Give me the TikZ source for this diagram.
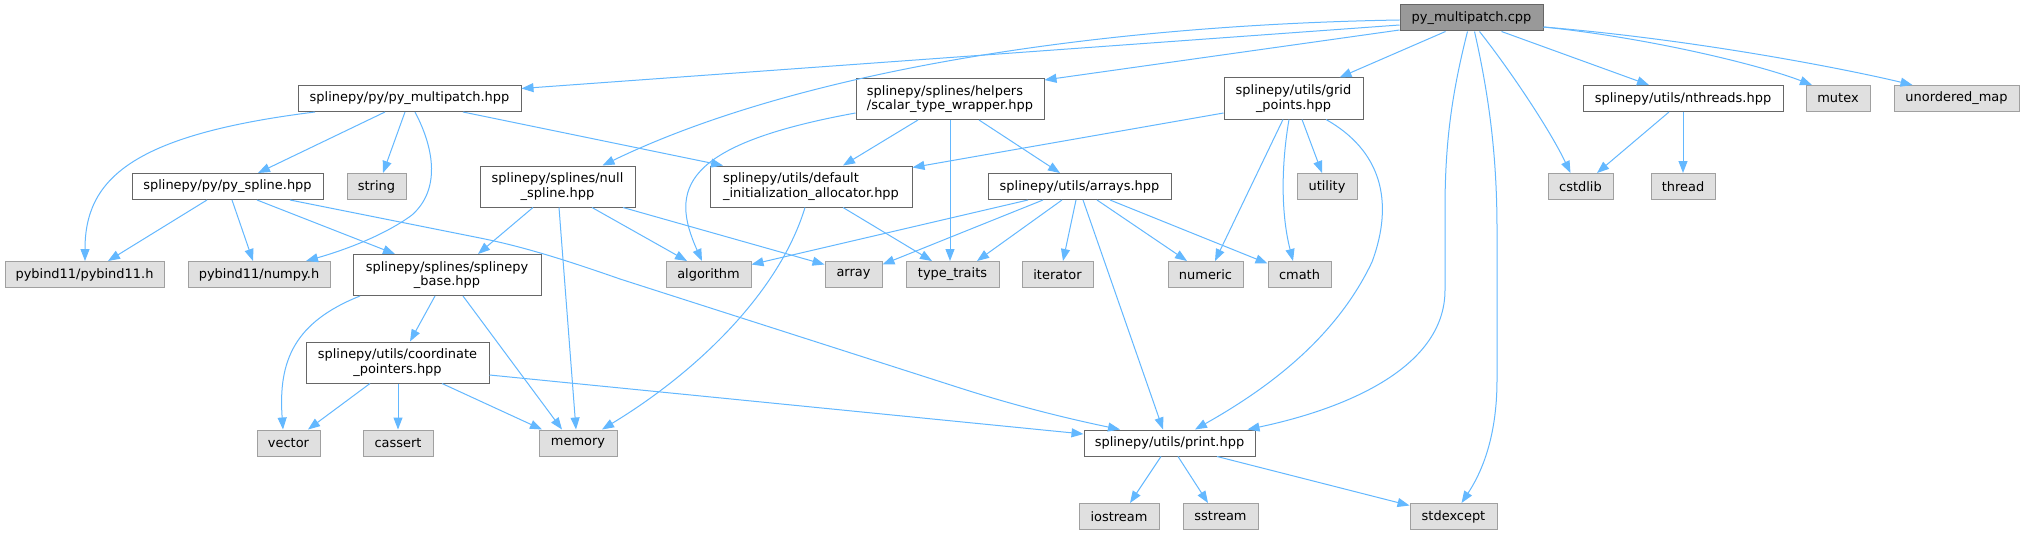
\documentclass[tikz,border=0pt]{standalone}
\usepackage{fontspec}
\setmainfont{DejaVu Sans}
\usetikzlibrary{arrows.meta,calc}
\definecolor{edgecol}{HTML}{63B8FF}
\definecolor{wborder}{HTML}{666666}
\definecolor{gborder}{HTML}{A0A0A0}
\definecolor{gfill}{HTML}{E0E0E0}
\definecolor{cppfill}{HTML}{999999}
\begin{document}
\begin{tikzpicture}[x=1pt,y=-1pt,
  every node/.style={font=\fontsize{12.95}{14.3}\selectfont, inner sep=0pt, text=black},
  wbox/.style={draw=wborder, fill=white, line width=1pt, minimum height=26pt},
  gbox/.style={draw=gborder, fill=gfill, line width=1pt, minimum height=26pt},
  rootbox/.style={draw=wborder, fill=cppfill, line width=1pt, minimum height=26pt},
  twol/.style={minimum height=41pt, align=center},
  twoleft/.style={minimum height=41pt, align=left},
  incl/.style={draw=edgecol, line width=1pt, -{Triangle[length=12pt,width=9pt]}}]
\useasboundingbox (0,0) rectangle (2024,535);
\fill[white] (0,0) rectangle (2024,535);

% row 0
\node[rootbox, minimum width=143pt] (cpp) at (1471.5,18) {py\_multipatch.cpp};
% row 1
\node[wbox, minimum width=223pt] (pmh) at (409.5,98.5) {splinepy/py/py\_multipatch.hpp};
\node[wbox, twoleft, minimum width=188pt] (scal) at (950,99) {splinepy/splines/helpers\\/scalar\_type\_wrapper.hpp};
\node[wbox, twol, minimum width=139pt] (grid) at (1293.5,98.5) {splinepy/utils/grid\\\_points.hpp};
\node[wbox, minimum width=200pt] (nthr) at (1683,98.5) {splinepy/utils/nthreads.hpp};
\node[gbox, minimum width=64pt] (mutex) at (1838,98.5) {mutex};
\node[gbox, minimum width=125pt] (umap) at (1956.5,98.5) {unordered\_map};
% row 2
\node[wbox, minimum width=191pt] (pys) at (227.5,186.5) {splinepy/py/py\_spline.hpp};
\node[gbox, minimum width=59pt] (string) at (376.5,186.5) {string};
\node[wbox, twol, minimum width=155pt] (null) at (557.5,186.5) {splinepy/splines/null\\\_spline.hpp};
\node[wbox, twoleft, minimum width=202pt] (dalloc) at (811,186.5) {splinepy/utils/default\\\_initialization\_allocator.hpp};
\node[wbox, minimum width=183pt] (arrays) at (1079.5,186.5) {splinepy/utils/arrays.hpp};
\node[gbox, minimum width=60pt] (utility) at (1327,186.5) {utility};
\node[gbox, minimum width=65pt] (cstdlib) at (1580.5,186.5) {cstdlib};
\node[gbox, minimum width=64pt] (thread) at (1683,186.5) {thread};
% row 3
\node[gbox, minimum width=159pt] (pyb) at (84.5,274.5) {pybind11/pybind11.h};
\node[gbox, minimum width=142pt] (numpy) at (259,274.5) {pybind11/numpy.h};
\node[wbox, twol, minimum width=188pt] (base) at (447,275) {splinepy/splines/splinepy\\\_base.hpp};
\node[gbox, minimum width=85pt] (algo) at (708.5,274.5) {algorithm};
\node[gbox, minimum width=57pt] (array) at (853.5,274.5) {array};
\node[gbox, minimum width=93pt] (ttraits) at (952.5,274.5) {type\_traits};
\node[gbox, minimum width=71pt] (iter) at (1057.5,274.5) {iterator};
\node[gbox, minimum width=75pt] (numeric) at (1205.5,274.5) {numeric};
\node[gbox, minimum width=63pt] (cmath) at (1299.5,274.5) {cmath};
% row 4
\node[wbox, twol, minimum width=183pt] (coord) at (397.5,362.5) {splinepy/utils/coordinate\\\_pointers.hpp};
% row 5
\node[gbox, minimum width=63pt] (vector) at (288.5,443) {vector};
\node[gbox, minimum width=70pt] (cassert) at (398,443) {cassert};
\node[gbox, minimum width=78pt] (memory) at (578,443) {memory};
\node[wbox, minimum width=171pt] (print) at (1169.5,443) {splinepy/utils/print.hpp};
% row 6
\node[gbox, minimum width=80pt] (iostream) at (1119,516.5) {iostream};
\node[gbox, minimum width=75pt] (sstream) at (1220.5,516.5) {sstream};
\node[gbox, minimum width=87pt] (stdexcept) at (1453.5,516.5) {stdexcept};

% edges from cpp
\draw[incl] ($(cpp.west)+(0,7)$) -- ($(pmh.east)+(0,-10)$);
\draw[incl] ($(cpp.west)+(0,2)$) .. controls (1100,25) and (800,70) .. ($(null.north)+(45,0)$);
\draw[incl] ($(cpp.west)+(0,12)$) -- ($(scal.east)+(0,-19)$);
\draw[incl] ($(cpp.south)+(-26,0)$) -- ($(grid.north)+(46,0)$);
\draw[incl] ($(cpp.south)+(-4,0)$) .. controls (1450,100) and (1445,150) .. (1445,210) -- (1445,290) .. controls (1445,370) and (1340,410) .. ($(print.north)+(78,0)$);
\draw[incl] ($(cpp.south)+(3,0)$) .. controls (1490,100) and (1497,160) .. (1497,230) -- (1497,380) .. controls (1497,440) and (1480,475) .. ($(stdexcept.north)+(8,0)$);
\draw[incl] ($(cpp.south)+(8,0)$) .. controls (1510,70) and (1550,130) .. ($(cstdlib.north)+(-10,0)$);
\draw[incl] ($(cpp.south)+(30,0)$) -- ($(nthr.north)+(-34,0)$);
\draw[incl] ($(cpp.east)+(0,9)$) .. controls (1650,38) and (1760,65) .. ($(mutex.north)+(-26,0)$);
\draw[incl] ($(cpp.east)+(0,9)$) .. controls (1700,40) and (1850,70) .. ($(umap.north)+(-44,0)$);

% edges from py_multipatch.hpp
\draw[incl] ($(pmh.south)+(-94.5,0)$) .. controls (130,135) and (85,180) .. ($(pyb.north)+(0.5,0)$);
\draw[incl] ($(pmh.south)+(-24.5,0)$) -- ($(pys.north)+(30.5,0)$);
\draw[incl] ($(pmh.south)+(-4.5,0)$) -- ($(string.north)+(6.5,0)$);
\draw[incl] ($(pmh.south)+(5.5,0)$) .. controls (435,150) and (440,190) .. (412,215) .. controls (385,235) and (345,250) .. ($(numpy.north)+(47,0)$);
\draw[incl] ($(pmh.south)+(53.5,0)$) -- ($(dalloc.north)+(-88,0)$);

% edges from py_spline.hpp
\draw[incl] ($(pys.south)+(-20.5,0)$) -- ($(pyb.north)+(23.5,0)$);
\draw[incl] ($(pys.south)+(4.5,0)$) -- ($(numpy.north)+(-6,0)$);
\draw[incl] ($(pys.south)+(29.5,0)$) -- ($(base.north)+(-52,0)$);
\draw[incl] ($(pys.south)+(62.5,0)$) -- (480,238) .. controls (520,246) and (560,258) .. (620,279) -- (960,388) .. controls (1010,404) and (1060,417) .. ($(print.north)+(-49.5,0)$);

% edges from splinepy_base.hpp
\draw[incl] ($(base.south)+(-87,0)$) .. controls (295,322) and (278,360) .. ($(vector.north)+(-5.5,0)$);
\draw[incl] ($(base.south)+(-12,0)$) -- ($(coord.north)+(12.5,0)$);
\draw[incl] ($(base.south)+(16,0)$) -- ($(memory.north)+(-16,0)$);

% edges from null_spline.hpp
\draw[incl] ($(null.south)+(-24.5,0)$) -- ($(base.north)+(31,0)$);
\draw[incl] ($(null.south)+(1.5,0)$) -- ($(memory.north)+(-2,0)$);
\draw[incl] ($(null.south)+(34.5,0)$) -- ($(algo.north)+(-21.5,0)$);
\draw[incl] ($(null.south)+(65.5,0)$) -- ($(array.west)+(0,-10)$);

% edges from scalar_type_wrapper.hpp
\draw[incl] ($(scal.west)+(0,14)$) .. controls (680,145) and (670,190) .. ($(algo.north)+(-6.5,0)$);
\draw[incl] ($(scal.south)+(-32,0)$) -- ($(dalloc.north)+(32,0)$);
\draw[incl] (scal.south) -- ($(ttraits.north)+(-2.5,0)$);
\draw[incl] ($(scal.south)+(29,0)$) -- ($(arrays.north)+(-19.5,0)$);

% edges from default_initialization_allocator.hpp
\draw[incl] ($(dalloc.south)+(-6,0)$) .. controls (780,290) and (700,370) .. ($(memory.north)+(24,0)$);
\draw[incl] ($(dalloc.south)+(32,0)$) -- ($(ttraits.north)+(-20.5,0)$);

% edges from grid_points.hpp
\draw[incl] ($(grid.west)+(0,14.5)$) -- ($(dalloc.east)+(0,-19)$);
\draw[incl] ($(grid.south)+(-10.5,0)$) -- ($(numeric.north)+(9.5,0)$);
\draw[incl] ($(grid.south)+(-4.5,0)$) .. controls (1282,160) and (1280,210) .. ($(cmath.north)+(-6.5,0)$);
\draw[incl] ($(grid.south)+(8.5,0)$) -- ($(utility.north)+(-5,0)$);
\draw[incl] ($(grid.south)+(32.5,0)$) .. controls (1380,150) and (1395,200) .. (1372,262) .. controls (1335,340) and (1265,390) .. ($(print.north)+(25.5,0)$);

% edges from arrays.hpp
\draw[incl] ($(arrays.south)+(-51.5,0)$) -- ($(algo.east)+(0,-10)$);
\draw[incl] ($(arrays.south)+(-36.5,0)$) -- ($(array.east)+(0,-10)$);
\draw[incl] ($(arrays.south)+(-17.5,0)$) -- ($(ttraits.north)+(24.5,0)$);
\draw[incl] ($(arrays.south)+(-3.5,0)$) -- ($(iter.north)+(5.5,0)$);
\draw[incl] ($(arrays.south)+(3.5,0)$) -- ($(print.north)+(-6.5,0)$);
\draw[incl] ($(arrays.south)+(17.5,0)$) -- ($(numeric.north)+(-18.5,0)$);
\draw[incl] ($(arrays.south)+(30.5,0)$) -- ($(cmath.west)+(0,-11)$);

% edges from nthreads.hpp
\draw[incl] ($(nthr.south)+(-14,0)$) -- ($(cstdlib.north)+(16.5,0)$);
\draw[incl] (nthr.south) -- (thread.north);

% edges from coordinate_pointers.hpp
\draw[incl] ($(coord.south)+(-27.5,0)$) -- ($(vector.north)+(19.5,0)$);
\draw[incl] ($(coord.south)+(0.5,0)$) -- (cassert.north);
\draw[incl] ($(coord.south)+(44.5,0)$) -- ($(memory.north)+(-36,0)$);
\draw[incl] ($(coord.east)+(0,12.5)$) -- ($(print.west)+(0,-9)$);

% edges from print.hpp
\draw[incl] ($(print.south)+(-8.5,0)$) -- ($(iostream.north)+(11,0)$);
\draw[incl] ($(print.south)+(8.5,0)$) -- ($(sstream.north)+(-12.5,0)$);
\draw[incl] ($(print.south)+(47.5,0)$) -- ($(stdexcept.west)+(0,-11)$);
\end{tikzpicture}
\end{document}
